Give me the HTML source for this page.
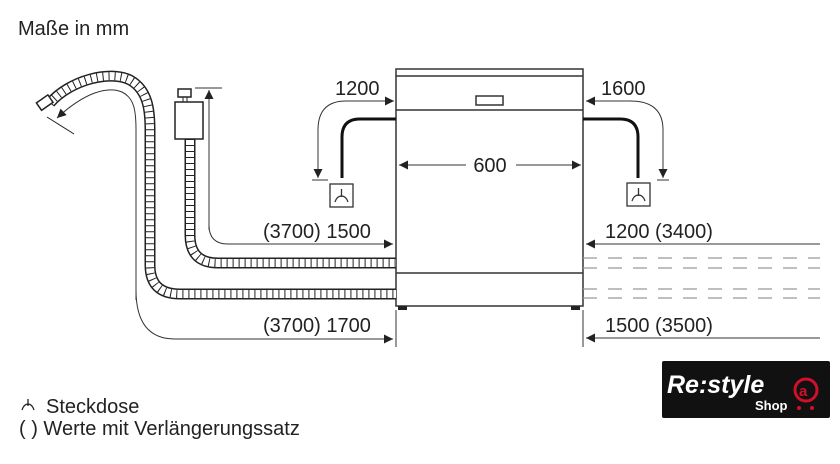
<!DOCTYPE html>
<html><head><meta charset="utf-8"><style>
body{margin:0;background:#fff;width:840px;height:459px;overflow:hidden;font-family:"Liberation Sans",sans-serif}
svg text{font-family:"Liberation Sans",sans-serif;fill:#222}
</style></head><body>
<svg width="840" height="459" viewBox="0 0 840 459" xmlns="http://www.w3.org/2000/svg">
<defs>
<marker id="a" viewBox="0 0 10 10" refX="10" refY="5" markerWidth="12" markerHeight="9" orient="auto" markerUnits="userSpaceOnUse"><path d="M0,0L10,5L0,10z" fill="#222"/></marker>
</defs>
<text x="18" y="35" font-size="20">Maße in mm</text>
<!-- appliance -->
<g fill="#fff" stroke="#333" stroke-width="1.5">
<rect x="396" y="69" width="187" height="237"/>
<line x1="396" y1="76" x2="583" y2="76"/>
<line x1="396" y1="110" x2="583" y2="110"/>
<line x1="396" y1="273" x2="583" y2="273"/>
<rect x="476" y="96" width="27" height="9"/>
</g>
<rect x="398" y="306" width="9" height="4" fill="#222"/>
<rect x="571" y="306" width="9" height="4" fill="#222"/>
<!-- hoses -->
<g fill="none">
<path d="M50,103 C70,80 110,70 130,80 C148,90 150,110 150,130 L150,265 Q150,294 180,294 L396,294" stroke="#222" stroke-width="11"/>
<path d="M50,103 C70,80 110,70 130,80 C148,90 150,110 150,130 L150,265 Q150,294 180,294 L396,294" stroke="#fff" stroke-width="8"/>
<path d="M50,103 C70,80 110,70 130,80 C148,90 150,110 150,130 L150,265 Q150,294 180,294 L396,294" stroke="#222" stroke-width="8" stroke-dasharray="1 5"/>
<path d="M190,139 L190,235 Q190,263 218,263 L396,263" stroke="#222" stroke-width="11"/>
<path d="M190,139 L190,235 Q190,263 218,263 L396,263" stroke="#fff" stroke-width="8"/>
<path d="M190,139 L190,235 Q190,263 218,263 L396,263" stroke="#222" stroke-width="8" stroke-dasharray="1 5"/>
</g>
<rect x="38" y="98" width="14" height="9" transform="rotate(-35 45 103)" fill="#fff" stroke="#222" stroke-width="1.5"/>
<line x1="47" y1="117" x2="74" y2="134" stroke="#222" stroke-width="1"/>
<rect x="175" y="102" width="28" height="37" fill="#fff" stroke="#222" stroke-width="1.5"/>
<rect x="178" y="89" width="13" height="8" fill="#fff" stroke="#222" stroke-width="1.5"/>
<line x1="183" y1="97" x2="183" y2="102" stroke="#222"/><line x1="187" y1="97" x2="187" y2="102" stroke="#222"/>
<!-- thin dims -->
<g fill="none" stroke="#333" stroke-width="1">
<line x1="195" y1="88" x2="222" y2="88"/>
<path d="M209,90 L209,225 Q209,244 228,244 L393,244" marker-end="url(#a)"/>
<path d="M209,230 L209,90" marker-end="url(#a)"/>
<path d="M136,300 L136,130 C136,110 134,98 122,92 C108,86 85,92 57,118" marker-end="url(#a)"/>
<path d="M136,290 Q136,339 175,339 L393,339" marker-end="url(#a)"/>
<path d="M346,101 Q318,101 318,130 L318,178" marker-end="url(#a)"/>
<path d="M346,101 L394,101" marker-end="url(#a)"/>
<line x1="312" y1="180" x2="328" y2="180"/>
<path d="M630,101 Q663,101 663,130 L663,178" marker-end="url(#a)"/>
<path d="M632,101 L586,101" marker-end="url(#a)"/>
<line x1="657" y1="180" x2="669" y2="180"/>
<path d="M820,244 L586,244" marker-end="url(#a)"/>
<path d="M820,338 L586,338" marker-end="url(#a)"/>
<path d="M466,165 L399,165" marker-end="url(#a)"/>
<path d="M516,165 L581,165" marker-end="url(#a)"/>
<line x1="396" y1="310" x2="396" y2="347"/>
<line x1="583" y1="310" x2="583" y2="347"/>
</g>
<g stroke="#999" stroke-width="1.2" stroke-dasharray="14 11">
<line x1="583" y1="258" x2="820" y2="258"/><line x1="583" y1="268" x2="820" y2="268"/>
<line x1="583" y1="289" x2="820" y2="289"/><line x1="583" y1="298" x2="820" y2="298"/>
</g>
<!-- power cords -->
<g fill="none" stroke="#111" stroke-width="3">
<path d="M396,119 L360,119 Q342,119 342,137 L342,178"/>
<path d="M583,119 L620,119 Q638,119 638,137 L638,178"/>
</g>
<g fill="none" stroke="#333" stroke-width="1.3">
<rect x="330" y="184" width="23" height="23"/>
<rect x="627" y="183" width="23" height="23"/>
<path d="M341.5,189 L341.5,197 M335,202 Q337,196 341.5,196 Q346,196 348,202"/>
<path d="M638.5,188 L638.5,196 M632,201 Q634,195 638.5,195 Q643,195 645,201"/>
</g>
<g font-size="20">
<text x="335" y="95">1200</text>
<text x="601" y="95">1600</text>
<text x="490" y="172" text-anchor="middle">600</text>
<text x="263" y="238">(3700) 1500</text>
<text x="263" y="332">(3700) 1700</text>
<text x="605" y="238">1200 (3400)</text>
<text x="605" y="332">1500 (3500)</text>
<text x="46" y="413">Steckdose</text>
<text x="19" y="435">( ) Werte mit Verlängerungssatz</text>
</g>
<path d="M28,399 L28,406 M22,410 Q24,404 28,404 Q32,404 34,410" fill="none" stroke="#222" stroke-width="1.3"/>
<!-- logo -->
<rect x="662" y="361" width="168" height="57" rx="2" fill="#111"/>
<text x="667" y="393" font-size="25" font-style="italic" font-weight="bold" style="fill:#fff">Re:style</text>
<text x="755" y="410" font-size="13" font-weight="bold" style="fill:#fff">Shop</text>
<circle cx="806" cy="390" r="11" fill="none" stroke="#d0102a" stroke-width="3"/>
<text x="799" y="396" font-size="15" font-weight="bold" style="fill:#d0102a">a</text>
<circle cx="799" cy="408" r="2" fill="#d0102a"/><circle cx="812" cy="408" r="2" fill="#d0102a"/>
</svg>
</body></html>
